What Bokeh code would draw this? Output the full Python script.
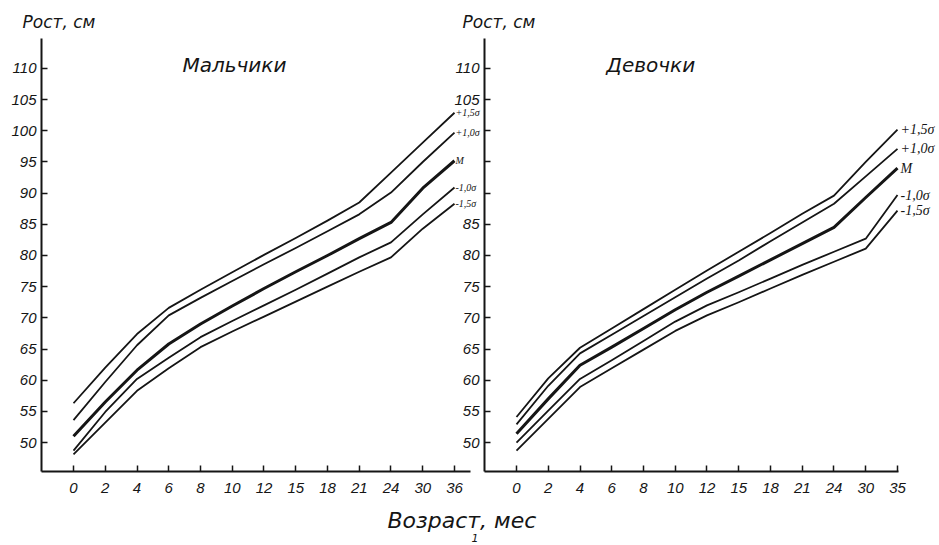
from bokeh.plotting import figure
from bokeh.layouts import row, column
from bokeh.models import Range1d, FixedTicker, Label, LabelSet, ColumnDataSource
from bokeh.embed import file_html
from bokeh.resources import INLINE

# ---------------- data ----------------
boys_ages = ["0", "2", "4", "6", "8", "10", "12", "15", "18", "21", "24", "30", "36"]
girls_ages = ["0", "2", "4", "6", "8", "10", "12", "15", "18", "21", "24", "30", "35"]
series_names = ["+1,5σ", "+1,0σ", "M", "-1,0σ", "-1,5σ"]

boys_p15 = [56.3, 62.0, 67.4, 71.6, 74.5, 77.3, 80.1, 82.8, 85.6, 88.5, 93.3, 98.1, 102.9]
boys_p10 = [53.6, 59.7, 65.6, 70.4, 73.2, 75.9, 78.6, 81.2, 83.9, 86.6, 90.1, 95.0, 99.7]
boys_m = [51.0, 56.5, 61.6, 65.8, 69.0, 71.9, 74.7, 77.4, 80.0, 82.7, 85.3, 90.8, 95.2]
boys_m10 = [48.7, 54.9, 60.2, 63.6, 66.9, 69.5, 72.0, 74.5, 77.1, 79.7, 82.1, 86.6, 90.9]
boys_m15 = [48.1, 53.2, 58.3, 61.9, 65.3, 67.8, 70.2, 72.6, 75.0, 77.4, 79.7, 84.3, 88.3]

girls_p15 = [54.1, 60.3, 65.2, 68.3, 71.4, 74.5, 77.6, 80.6, 83.6, 86.7, 89.6, 95.0, 100.2]
girls_p10 = [52.9, 59.1, 64.3, 67.3, 70.3, 73.3, 76.3, 79.2, 82.3, 85.3, 88.3, 92.7, 97.1]
girls_m = [51.4, 57.0, 62.4, 65.3, 68.3, 71.3, 74.1, 76.7, 79.3, 81.9, 84.5, 89.3, 94.0]
girls_m10 = [50.0, 55.1, 60.2, 63.2, 66.3, 69.4, 72.0, 74.1, 76.3, 78.5, 80.6, 82.7, 89.7]
girls_m15 = [48.7, 53.8, 58.9, 61.9, 64.9, 67.9, 70.4, 72.5, 74.7, 76.9, 79.0, 81.1, 87.2]

y_ticks = [50, 55, 60, 65, 70, 75, 80, 85, 90, 95, 100, 105, 110]

boys = [boys_p15, boys_p10, boys_m, boys_m10, boys_m15]
girls = [girls_p15, girls_p10, girls_m, girls_m10, girls_m15]

INK = "#151515"
TICK_FONT = "Liberation Sans"
TITLE_FONT = "DejaVu Sans"

Y0, Y1 = 45.35, 114.81   # frame spans 38..471 px


def style_axes(p, ages, hidden=None):
    xa = p.xaxis[0]
    xa.ticker = FixedTicker(ticks=list(range(len(ages))))
    xa.major_label_overrides = {i: a for i, a in enumerate(ages)}
    ya = p.yaxis[0]
    ya.ticker = FixedTicker(ticks=y_ticks)
    if hidden:
        ya.major_label_overrides = {v: "" for v in hidden}
    for ax in (xa, ya):
        ax.axis_line_color = INK
        ax.axis_line_width = 2
        ax.major_tick_line_color = INK
        ax.major_tick_line_width = 1.5
        ax.major_tick_in = 6
        ax.major_tick_out = 0
        ax.minor_tick_line_color = None
        ax.major_label_text_font = TICK_FONT
        ax.major_label_text_font_style = "italic"
        ax.major_label_text_font_size = "15px"
        ax.major_label_text_color = INK
    xa.major_label_standoff = 11
    ya.major_label_standoff = 5
    p.xgrid.visible = False
    p.ygrid.visible = False
    p.outline_line_color = None


def draw_series(p, data):
    for i, vals in enumerate(data):
        xs = list(range(len(vals)))
        p.line(xs, vals, line_color=INK, line_width=3.0 if i == 2 else 1.8,
               line_join="round")


# ---------------- left: boys (canvas 0..490, frame 41..490) ----------------
p1 = figure(width=490, height=545,
            x_range=Range1d(-1.008, 13.134), y_range=Range1d(Y0, Y1),
            output_backend="svg", toolbar_location=None,
            min_border_left=41, min_border_right=0,
            min_border_top=38, min_border_bottom=74)
p1.background_fill_alpha = 0
p1.border_fill_color = "white"
style_axes(p1, boys_ages)
p1.xaxis[0].bounds = (-1.008, 12.504)
draw_series(p1, boys)

src1 = ColumnDataSource(dict(x=[len(s) - 1 for s in boys],
                             y=[s[-1] for s in boys],
                             text=series_names))
p1.add_layout(LabelSet(x="x", y="y", text="text", source=src1, x_offset=1,
                       text_font=TICK_FONT, text_font_style="italic",
                       text_font_size="10px", text_baseline="middle",
                       text_color=INK))
p1.add_layout(Label(x=3.43, y=110.6, text="Мальчики", text_font=TITLE_FONT,
                    text_font_style="italic", text_font_size="20px",
                    text_baseline="middle", text_color=INK))

# ---------------- right: girls (canvas 440..939, frame 484..939) ----------------
p2 = figure(width=499, height=545,
            x_range=Range1d(-1.008, 13.323), y_range=Range1d(Y0, Y1),
            output_backend="svg", toolbar_location=None,
            min_border_left=44, min_border_right=0,
            min_border_top=38, min_border_bottom=74,
            margin=(0, 0, 0, -50))
p2.background_fill_alpha = 0
p2.border_fill_alpha = 0
style_axes(p2, girls_ages, hidden=[90, 95, 100])
p2.xaxis[0].bounds = (-1.008, 12.03)
draw_series(p2, girls)

src2 = ColumnDataSource(dict(x=[len(s) - 1 for s in girls],
                             y=[s[-1] for s in girls],
                             text=series_names))
p2.add_layout(LabelSet(x="x", y="y", text="text", source=src2, x_offset=3,
                       text_font=TICK_FONT, text_font_style="italic",
                       text_font_size="14px", text_baseline="middle",
                       text_color=INK))
p2.add_layout(Label(x=2.83, y=110.6, text="Девочки", text_font=TITLE_FONT,
                    text_font_style="italic", text_font_size="20px",
                    text_baseline="middle", text_color=INK))

# ---------------- overlay for the texts outside both frames ----------------
p3 = figure(width=939, height=545,
            x_range=Range1d(0, 939), y_range=Range1d(545, 0),
            output_backend="svg", toolbar_location=None,
            x_axis_location=None, y_axis_location=None,
            min_border=0)
p3.background_fill_alpha = 0
p3.border_fill_alpha = 0
p3.outline_line_color = None
p3.xgrid.visible = False
p3.ygrid.visible = False

for tx, ty, txt, size in [(22, 21, "Рост, см", "17px"),
                          (462, 21, "Рост, см", "17px"),
                          (387, 520, "Возраст, мес", "22px"),
                          (471, 537, "1", "11px")]:
    p3.add_layout(Label(x=tx, y=ty, text=txt, text_font=TITLE_FONT,
                        text_font_style="italic", text_font_size=size,
                        text_baseline="middle", text_color=INK))

overlay = column(p3, margin=(0, 0, 0, -939))
layout = row(p1, p2, overlay)
open("out.html", "w").write(file_html(layout, INLINE))
